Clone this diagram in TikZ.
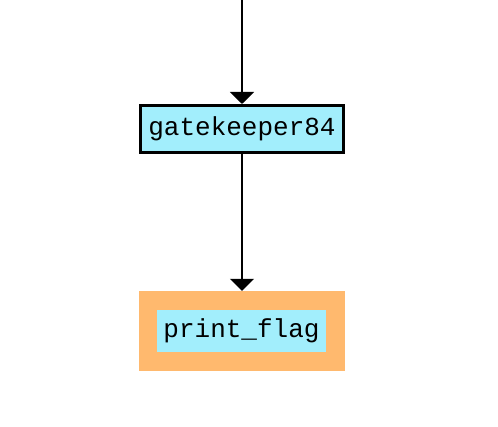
\documentclass[tikz,border=0pt]{standalone}
\usepackage{fontspec}
\setmonofont{Liberation Mono}
\usetikzlibrary{arrows.meta}
\definecolor{boxcyan}{RGB}{162,238,252}
\definecolor{boxorange}{RGB}{255,185,110}
\begin{document}
\begin{tikzpicture}[x=1pt, y=1pt,
        fn/.style={fill=boxcyan, inner sep=0pt, font=\ttfamily\fontsize{26}{26}\selectfont},
        link/.style={line width=1.6pt, -{Triangle[width=24pt, length=12pt]}}]
            \useasboundingbox (0, 0) rectangle (498, 427);

            % Oeverst: inkommande kant
            \coordinate (top) at (242, 427);

            % Rita gatekeeper-noden
            \node[fn, draw, line width=3pt, minimum width=203pt, minimum height=47pt] (gate) at (242, 298) {gatekeeper84};

            % Rita print_flag-noden (orange ram)
            \node[fill=boxorange, minimum width=206pt, minimum height=80pt] (flagbg) at (242, 96) {};
            \node[fn, minimum width=169pt, minimum height=42pt] (flag) at (241.5, 96) {print\_flag};

            % Kanter
            \draw[link] (top) -- (gate.north);
            \draw[link] (gate.south) -- (flagbg.north);
        \end{tikzpicture}
\end{document}
